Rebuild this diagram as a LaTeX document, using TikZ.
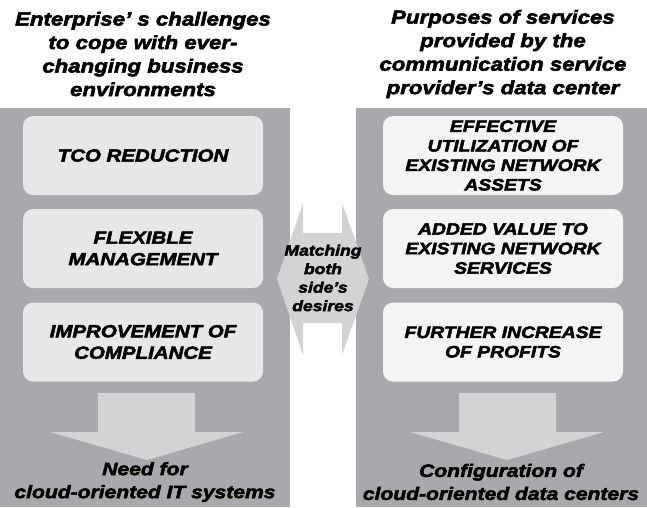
\documentclass[tikz,border=0pt]{standalone}
\usepackage{fontspec}
\setmainfont{Liberation Sans}[BoldItalicFeatures={FakeBold=2.8,FakeStretch=1.17}]
\usepackage{tikz}
\definecolor{panelgray}{HTML}{A7A9AC}
\definecolor{boxgray}{HTML}{E6E7E8}
\definecolor{boxlight}{HTML}{F4F4F4}
\definecolor{arrowgray}{HTML}{D1D3D4}
\tikzset{
  heading/.style={align=center,font=\fontsize{19}{23.5}\selectfont\bfseries\itshape},
  goalbox/.style={rounded corners=10pt,minimum width=240pt,minimum height=79pt,inner sep=2pt,align=center},
  leftbox/.style={goalbox,fill=boxgray,font=\fontsize{17.5}{21.5}\selectfont\bfseries\itshape},
  rightbox/.style={goalbox,fill=boxlight,font=\fontsize{16.5}{19.5}\selectfont\bfseries\itshape},
  resulttext/.style={align=center,font=\fontsize{18}{23}\selectfont\bfseries\itshape}
}

\begin{document}
\begin{tikzpicture}[x=1pt,y=-1pt]
\useasboundingbox (0,0) rectangle (647,507);
\fill[panelgray] (0,108) rectangle (290,507);
\fill[panelgray] (356,108) rectangle (647,507);
\node[heading] (lefttitle) at (143,54) {Enterprise' s challenges\\to cope with ever-\\changing business\\environments};
\node[heading] (righttitle) at (503,54) {Purposes of services\\provided by the\\communication service\\provider’s data center};
\node[leftbox] (tco) at (143,155.5) {TCO REDUCTION};
\node[leftbox] (flex) at (143,248.5) {FLEXIBLE\\MANAGEMENT};
\node[leftbox] (compl) at (143,342) {IMPROVEMENT OF\\COMPLIANCE};
\node[rightbox] (assets) at (503,155.5) {EFFECTIVE\\UTILIZATION OF\\EXISTING NETWORK\\ASSETS};
\node[rightbox] (value) at (503,248.5) {ADDED VALUE TO\\EXISTING NETWORK\\SERVICES};
\node[rightbox] (profits) at (503,342) {FURTHER INCREASE\\OF PROFITS};
\fill[arrowgray] (98,393)--(195,393)--(195,432)--(243,432)--(147,460)--(50,432)--(98,432)--cycle;
\fill[arrowgray] (459,393)--(556,393)--(556,432)--(604,432)--(507,460)--(410,432)--(459,432)--cycle;
\fill[arrowgray] (277,279)--(303,203)--(303,233)--(342,233)--(342,203)--(369,279)--(342,355)--(342,323)--(303,323)--(303,355)--cycle;
\node[align=center,font=\fontsize{15}{18.5}\selectfont\bfseries\itshape] (match) at (323,278) {Matching\\both\\side’s\\desires};
\node[resulttext] (needit) at (145,482) {Need for\\cloud-oriented IT systems};
\node[resulttext] (confdc) at (501,482) {Configuration of\\cloud-oriented data centers};
\end{tikzpicture}
\end{document}
